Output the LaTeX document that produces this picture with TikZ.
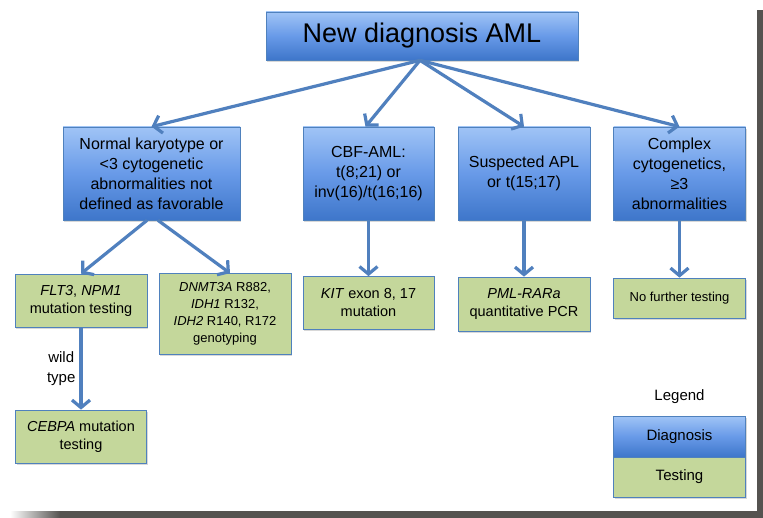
\documentclass[tikz,border=0pt]{standalone}
\usepackage{fontspec}
\setmainfont{Liberation Sans}
\usetikzlibrary{arrows.meta,shadows}
\definecolor{dgtop}{RGB}{160,196,246}
\definecolor{dgmid}{RGB}{104,154,232}
\definecolor{dgbot}{RGB}{62,118,202}
\definecolor{boxline}{RGB}{79,129,189}
\definecolor{testfill}{RGB}{196,215,155}
\definecolor{arrowc}{RGB}{80,128,190}
\definecolor{frame}{RGB}{85,83,80}
\tikzset{
  base/.style={draw=boxline, line width=0.7pt, align=center, inner sep=2pt,
    drop shadow={opacity=0.3, shadow xshift=1.2pt, shadow yshift=-1.8pt}},
  diagbox/.style={base, top color=dgtop, bottom color=dgbot, middle color=dgmid,
    font=\fontsize{16}{20}\selectfont},
  testbox/.style={base, fill=testfill, font=\fontsize{14.5}{18}\selectfont},
  conn/.style={draw=arrowc, line width=3.2pt, -{Straight Barb[length=7.5pt,width=18pt]}},
}
\begin{document}
\begin{tikzpicture}[x=1pt,y=-1pt]
\useasboundingbox (0,0) rectangle (763,518);
\fill[white] (0,0) rectangle (763,518);
% frame shadow
\fill[frame] (757,10) rectangle (763,518);
\shade[left color=white, right color=frame] (10,511) rectangle (60,518);
\fill[frame] (60,511) rectangle (763,518);

\node[diagbox, minimum width=312pt, minimum height=48pt, font=\fontsize{27}{32}\selectfont] (top) at (422,36) {New diagnosis AML};

\node[diagbox, minimum width=177pt, minimum height=93pt] (a) at (151.5,173.5) {Normal karyotype or\\ <3 cytogenetic\\ abnormalities not\\ defined as favorable};
\node[diagbox, minimum width=131pt, minimum height=93pt] (b) at (368.5,173.5) {CBF-AML:\\ t(8;21) or\\ inv(16)/t(16;16)};
\node[diagbox, minimum width=132pt, minimum height=93pt] (c) at (524,173.5) {Suspected APL\\ or t(15;17)};
\node[diagbox, minimum width=132pt, minimum height=93pt] (d) at (679.5,173.5) {Complex\\ cytogenetics,\\ ≥3\\ abnormalities};

\node[testbox, minimum width=132pt, minimum height=53pt] (flt) at (81,300.5) {\textit{FLT3}, \textit{NPM1}\\ mutation testing};
\node[testbox, minimum width=132pt, minimum height=81pt, font=\fontsize{13}{17}\selectfont] (dnm) at (225,314) {\textit{DNMT3A} R882,\\ \textit{IDH1} R132,\\ \textit{IDH2} R140, R172\\ genotyping};
\node[testbox, minimum width=131pt, minimum height=53pt] (kit) at (368.5,303) {\textit{KIT} exon 8, 17\\ mutation};
\node[testbox, minimum width=132pt, minimum height=54pt] (pml) at (524,304) {\textit{PML-RARa}\\ quantitative PCR};
\node[testbox, minimum width=132pt, minimum height=40pt, font=\fontsize{13}{17}\selectfont] (nof) at (679.5,298) {No further testing};
\node[testbox, minimum width=131pt, minimum height=53pt] (ceb) at (81,436.5) {\textit{CEBPA} mutation\\ testing};

\node[font=\fontsize{15}{18}\selectfont] (leg) at (679.5,397) {Legend};
\node[diagbox, minimum width=132pt, minimum height=41pt, font=\fontsize{15}{18}\selectfont] (ldiag) at (679.5,436.5) {Diagnosis};
\node[testbox, minimum width=132pt, minimum height=40pt, font=\fontsize{15}{18}\selectfont] (ltest) at (679.5,477) {Testing};

\draw[conn] ([xshift=-2pt]top.south) -- (a.north);
\draw[conn] ([xshift=-2pt]top.south) -- ([xshift=-3pt]b.north);
\draw[conn] ([xshift=-2pt]top.south) -- (c.north);
\draw[conn] ([xshift=-2pt]top.south) -- (d.north);

\draw[conn] ([xshift=-4.5pt]a.south) -- (flt.north);
\draw[conn] ([xshift=6.5pt]a.south) -- ([xshift=5pt]dnm.north);
\draw[conn] (b.south) -- (kit.north);
\draw[conn] (c.south) -- (pml.north);
\draw[conn] (d.south) -- (nof.north);
\draw[conn] (flt.south) -- node[left, align=center, font=\fontsize{15}{20}\selectfont, inner sep=4pt] (wt) {wild\\ type} (ceb.north);
\end{tikzpicture}
\end{document}
